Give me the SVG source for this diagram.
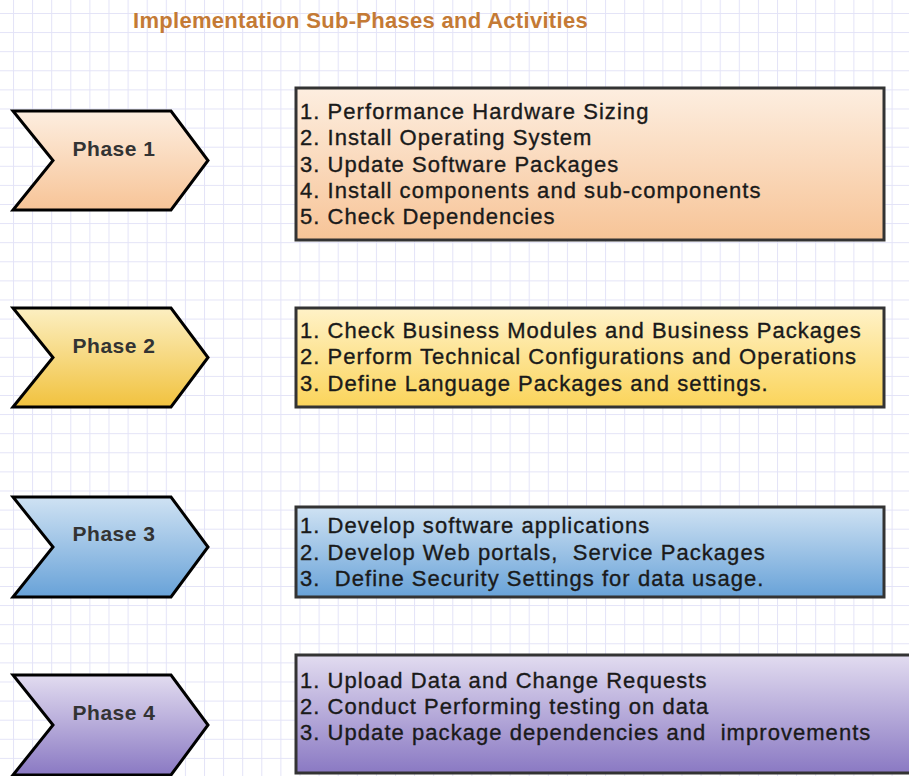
<svg xmlns="http://www.w3.org/2000/svg" width="909" height="776" viewBox="0 0 909 776">
<defs>
<pattern id="grid" patternUnits="userSpaceOnUse" x="13" y="13" width="19.1" height="19.1">
<path d="M0 0.5H19.1M0.5 0V19.1" stroke="#e3e3f7" stroke-width="1" fill="none"/>
</pattern>
<linearGradient id="g1" x1="0" y1="0" x2="0" y2="1"><stop offset="0" stop-color="#fdeee0"/><stop offset="1" stop-color="#f7c497"/></linearGradient>
<linearGradient id="g2" x1="0" y1="0" x2="0" y2="1"><stop offset="0" stop-color="#fcefc2"/><stop offset="1" stop-color="#f1c23e"/></linearGradient>
<linearGradient id="g2b" x1="0" y1="0" x2="0" y2="1"><stop offset="0" stop-color="#fff2c8"/><stop offset="1" stop-color="#fbd45a"/></linearGradient>
<linearGradient id="g3" x1="0" y1="0" x2="0" y2="1"><stop offset="0" stop-color="#cfe2f3"/><stop offset="1" stop-color="#68a2d8"/></linearGradient>
<linearGradient id="g4" x1="0" y1="0" x2="0" y2="1"><stop offset="0" stop-color="#e2dcf0"/><stop offset="1" stop-color="#8a79c3"/></linearGradient>
</defs>
<style>
.chev{stroke:#000;stroke-width:3;stroke-linejoin:miter}
.box{stroke:#333;stroke-width:3}
.ph{font-family:"Liberation Sans",Arial,sans-serif;font-weight:bold;font-size:21px;fill:#333;text-anchor:middle;letter-spacing:0.5px}
.it{font-family:"Liberation Sans",Arial,sans-serif;font-size:22px;fill:#1a1a1a;stroke:#1a1a1a;stroke-width:0.35px;letter-spacing:1.05px;white-space:pre}
.title{font-family:"Liberation Sans",Arial,sans-serif;font-weight:bold;font-size:22px;fill:#c47a35;letter-spacing:0.3px}
</style>
<rect width="909" height="776" fill="#fff"/>
<rect width="909" height="776" fill="url(#grid)"/>
<text class="title" x="133" y="28">Implementation Sub-Phases and Activities</text>

<g id="phase1">
<path class="chev" d="M13 111H171L208 160.5L171 210H13L53 160.5Z" fill="url(#g1)"/>
<text class="ph" x="114" y="156">Phase 1</text>
</g>
<g id="activities1">
<rect class="box" x="296" y="88" width="588" height="152" fill="url(#g1)"/>
<text class="it" x="300" y="119">1. Performance Hardware Sizing</text>
<text class="it" x="300" y="145">2. Install Operating System</text>
<text class="it" x="300" y="172">3. Update Software Packages</text>
<text class="it" x="300" y="198">4. Install components and sub-components</text>
<text class="it" x="300" y="224">5. Check Dependencies</text>
</g>

<g id="phase2">
<path class="chev" d="M13 308H171L208 357.5L171 407H13L53 357.5Z" fill="url(#g2)"/>
<text class="ph" x="114" y="353">Phase 2</text>
</g>
<g id="activities2">
<rect class="box" x="296" y="308" width="588" height="99" fill="url(#g2b)"/>
<text class="it" x="300" y="338">1. Check Business Modules and Business Packages</text>
<text class="it" x="300" y="364">2. Perform Technical Configurations and Operations</text>
<text class="it" x="300" y="391">3. Define Language Packages and settings.</text>
</g>

<g id="phase3">
<path class="chev" d="M13 497H171L208 547L171 597H13L53 547Z" fill="url(#g3)"/>
<text class="ph" x="114" y="541">Phase 3</text>
</g>
<g id="activities3">
<rect class="box" x="296" y="507" width="588" height="90" fill="url(#g3)"/>
<text class="it" x="300" y="533">1. Develop software applications</text>
<text class="it" x="300" y="560" xml:space="preserve">2. Develop Web portals,  Service Packages</text>
<text class="it" x="300" y="586" xml:space="preserve">3.  Define Security Settings for data usage.</text>
</g>

<g id="phase4">
<path class="chev" d="M13 675H171L208 725L171 775H13L53 725Z" fill="url(#g4)"/>
<text class="ph" x="114" y="720">Phase 4</text>
</g>
<g id="activities4">
<rect class="box" x="296" y="655" width="620" height="118" fill="url(#g4)"/>
<text class="it" x="300" y="688">1. Upload Data and Change Requests</text>
<text class="it" x="300" y="714">2. Conduct Performing testing on data</text>
<text class="it" x="300" y="740" xml:space="preserve">3. Update package dependencies and  improvements</text>
</g>
<g id="connectors"/>
</svg>
